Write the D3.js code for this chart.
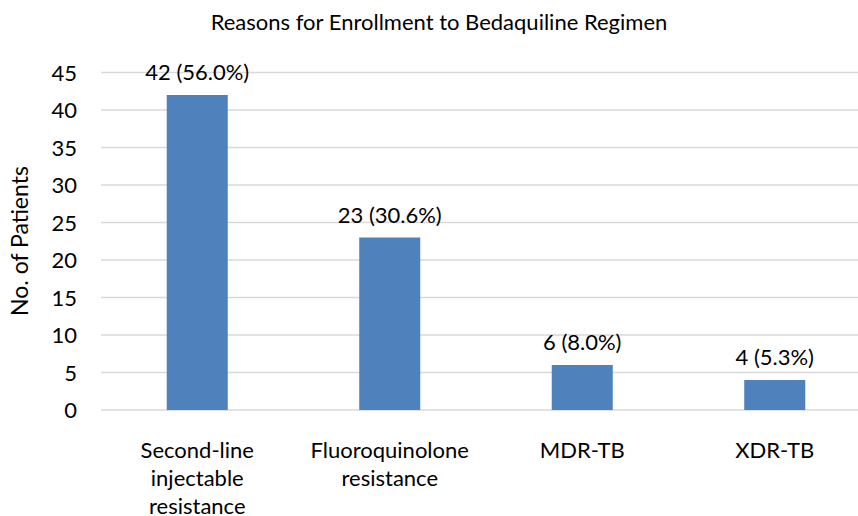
<!DOCTYPE html>
<html>
<head>
<meta charset="utf-8">
<script src="https://cdn.jsdelivr.net/npm/d3@7"></script>
<style>
  html, body { margin: 0; padding: 0; background: #fff; }
  svg { display: block; }
  text { font-family: Lato, "Open Sans", sans-serif; fill: #000; }
</style>
</head>
<body>
<svg id="chart" width="858" height="516"></svg>
<script>
const categories = [
  ["Second-line", "injectable", "resistance"],
  ["Fluoroquinolone", "resistance"],
  ["MDR-TB"],
  ["XDR-TB"]
];
const counts = [42, 23, 6, 4];
const valueLabels = ["42 (56.0%)", "23 (30.6%)", "6 (8.0%)", "4 (5.3%)"];
const yTicks = [0, 5, 10, 15, 20, 25, 30, 35, 40, 45];
const titleText = "Reasons for Enrollment to Bedaquiline Regimen";
const yTitle = "No. of Patients";

const svg = d3.select("#chart");
const mLeft = 101, mRight = 871, mTop = 72.5, mBottom = 410;
const keys = categories.map((c, i) => i);

const x = d3.scaleBand().domain(keys).range([mLeft, mRight]).paddingInner(0.683).paddingOuter(0.683 / 2);
const y = d3.scaleLinear().domain([0, 45]).range([mBottom, mTop]);

// gridlines
svg.append("g").selectAll("line").data(yTicks).join("line")
  .attr("x1", mLeft).attr("x2", mRight)
  .attr("y1", d => y(d)).attr("y2", d => y(d))
  .attr("stroke", "#d9d9d9").attr("stroke-width", 1.3);

// y axis labels
const yAxis = d3.axisLeft(y).tickValues(yTicks).tickSize(0).tickPadding(0);
const ya = svg.append("g").attr("transform", `translate(${mLeft - 24},0)`).call(yAxis);
ya.select(".domain").remove();
ya.selectAll("text").attr("font-size", 22).attr("font-family", "Lato, sans-serif").attr("fill", "#000").attr("dy", "0.35em");

// bars
svg.append("g").selectAll("rect").data(counts).join("rect")
  .attr("x", (d, i) => x(i)).attr("width", x.bandwidth())
  .attr("y", d => y(d)).attr("height", d => y(0) - y(d))
  .attr("fill", "#4f81bd");

// value labels
svg.append("g").selectAll("text").data(valueLabels).join("text")
  .attr("x", (d, i) => x(i) + x.bandwidth() / 2)
  .attr("y", (d, i) => y(counts[i]) - 15)
  .attr("text-anchor", "middle").attr("font-size", 22)
  .text(d => d);

// category labels
const cat = svg.append("g").selectAll("text").data(categories).join("text")
  .attr("x", (d, i) => x(i) + x.bandwidth() / 2)
  .attr("y", 457.5)
  .attr("text-anchor", "middle").attr("font-size", 22);
cat.selectAll("tspan").data(d => d).join("tspan")
  .attr("x", function() { return this.parentNode.getAttribute("x"); })
  .attr("dy", (d, j) => j === 0 ? 0 : 28.3)
  .text(d => d);

// title
svg.append("text").attr("x", 439).attr("y", 30).attr("text-anchor", "middle")
  .attr("font-size", 22).text(titleText);

// y title
svg.append("text").attr("transform", `translate(28,241) rotate(-90)`)
  .attr("text-anchor", "middle").attr("font-size", 23).text(yTitle);
</script>
</body>
</html>
